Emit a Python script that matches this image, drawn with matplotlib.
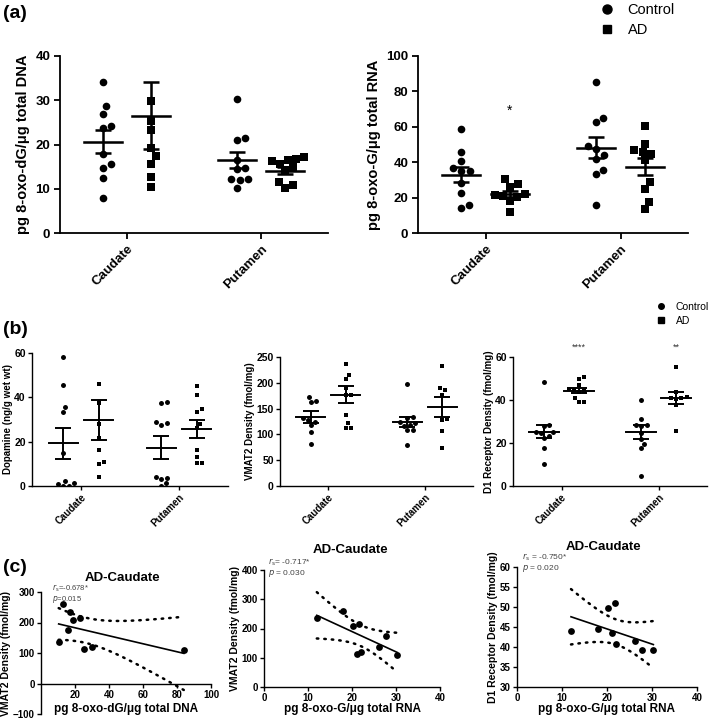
import numpy as np
import matplotlib
matplotlib.use('Agg')
from matplotlib import pyplot as plt
from matplotlib.lines import Line2D

plt.rcParams['font.family'] = ['Liberation Sans', 'DejaVu Sans']
plt.rcParams['axes.unicode_minus'] = True

W, H = 709, 720
regions = ['Caudate', 'Putamen']

# (a) 8-oxo-dG / 8-oxo-G, groups: [control, AD] x [caudate, putamen]
dna_ctrl_caud = [34.1, 28.6, 26.8, 24.1, 23.8, 17.8, 15.5, 14.7, 12.5, 7.9]
dna_ad_caud = [12.7, 17.3, 19.1, 15.7, 23.2, 10.4, 25.2, 29.8, 84.0]
dna_ctrl_put = [30.2, 21.0, 21.4, 16.5, 14.8, 12.0, 12.2, 10.2, 12.2, 14.5]
dna_ad_put = [17.2, 16.4, 16.7, 15.7, 14.9, 14.2, 11.5, 10.9, 10.2, 16.2]
dna_mean = [[20.6, 16.4], [26.5, 14.1]]
dna_sem = [[2.6, 1.8], [7.6, 0.8]]

rna_ctrl_caud = [59.0, 45.8, 40.5, 36.7, 34.8, 34.8, 28.2, 22.6, 14.3, 15.8]
rna_ad_caud = [12.0, 18.0, 20.2, 21.7, 21.1, 22.0, 26.2, 27.7, 30.3]
rna_ctrl_put = [85.3, 62.7, 65.2, 49.0, 47.5, 44.3, 42.0, 35.8, 33.1, 16.0]
rna_ad_put = [60.3, 50.5, 45.8, 44.4, 46.7, 41.0, 28.8, 25.0, 17.5, 13.4]
rna_mean = [[33.0, 48.3], [22.0, 37.5]]
rna_sem = [[4.2, 6.2], [1.6, 5.0]]

# (b) dopamine, VMAT2, D1
dop_ctrl_caud = [58.2, 45.4, 35.8, 33.5, 15.0, 2.4, 0.9, 0.2, 0.0, 1.2]
dop_ad_caud = [46.2, 37.3, 27.8, 21.5, 16.2, 10.7, 9.8, 3.9]
dop_ctrl_put = [37.9, 37.3, 28.7, 27.6, 28.2, 3.0, 3.9, 3.8, 0.0, 1.2]
dop_ad_put = [45.3, 41.1, 34.6, 33.5, 27.8, 26.0, 16.2, 13.3, 10.4, 10.4]
dop_mean = [[19.2, 17.3], [29.6, 25.9]]
dop_sem = [[7.0, 5.3], [9.0, 4.1]]

vmat_ctrl_caud = [173, 163, 165, 131, 127, 124, 118, 104, 81]
vmat_ad_caud = [237, 216, 207, 189, 177, 176, 137, 122, 113, 112]
vmat_ctrl_put = [198, 134, 132, 124, 123, 118, 117, 108, 108, 79]
vmat_ad_put = [232, 186, 189, 177, 130, 127, 106, 74]
vmat_mean = [[134, 124], [177, 153]]
vmat_sem = [[11, 10], [17, 20]]

d1_ctrl_caud = [48.2, 28.3, 27.8, 25.3, 24.6, 25.0, 23.3, 22.4, 17.6, 10.1]
d1_ad_caud = [50.9, 49.9, 46.8, 45.0, 44.6, 44.1, 43.5, 40.8, 39.2, 39.2]
d1_ctrl_put = [39.8, 31.1, 28.3, 28.0, 28.3, 24.6, 21.8, 19.5, 17.5, 4.7]
d1_ad_put = [55.2, 43.6, 41.5, 40.9, 40.7, 40.4, 37.8, 25.7]
d1_mean = [[25.3, 25.0], [44.3, 40.9]]
d1_sem = [[3.0, 3.2], [1.2, 2.8]]

# (c) AD-Caudate correlations
vmat_vs_dna = [260, 235, 207, 175, 215, 135, 112, 120, 110]
vmat_vs_rna = [235, 260, 207, 216, 114, 120, 136, 175, 110]
d1_vs_rna = [43.9, 44.6, 49.8, 51.0, 43.5, 40.7, 41.4, 39.3, 39.2]
stats_rs = ['=-0.678*', '= -0.717*', ' = -0.750*']
stats_p = ['=0.015', ' = 0.030', ' = 0.020']


fig = plt.figure(figsize=(W / 100, H / 100), dpi=100)


def px_axes(x0, y0, x1, y1):
    ax = fig.add_axes([x0 / W, 1 - y1 / H, (x1 - x0) / W, (y1 - y0) / H])
    ax.spines['top'].set_visible(False)
    ax.spines['right'].set_visible(False)
    return ax


def fig_xy(px, py):
    return px / W, 1 - py / H


def swarm(ax, center, vals, marker, diam_px):
    vals = np.asarray(vals, float)
    pts = ax.transData.transform(np.column_stack([np.full(len(vals), center), vals]))
    ppu = ax.transData.transform((1, 0))[0] - ax.transData.transform((0, 0))[0]
    placed = []
    offs = np.zeros(len(vals))
    for i in np.argsort(vals):
        py = pts[i, 1]
        cands = [0.0]
        for ox, oy in placed:
            dy = py - oy
            if abs(dy) < diam_px:
                dx = np.sqrt(diam_px ** 2 - dy ** 2)
                cands += [ox + dx, ox - dx]
        cands.sort(key=abs)
        for c in cands:
            if all((c - ox) ** 2 + (py - oy) ** 2 >= diam_px ** 2 - 1e-3 for ox, oy in placed):
                break
        placed.append((c, py))
        offs[i] = c
    size = (diam_px * 0.9 * 0.72) ** 2
    ax.scatter(center + offs / ppu, vals, marker=marker, s=size, color='black',
               linewidths=0, zorder=3)


def dot_panel(ax, groups, means, sems, ylim, yticks, ylabel, diam, fs_tick, fs_xlab,
              fs_ylab, lw, half, tick_len, tick_pad, labelpad):
    ax.set_xlim(0.5, 2.5)
    ax.set_ylim(*ylim)
    ax.set_yticks(yticks)
    ax.set_xticks([1, 2])
    ax.set_xticklabels(regions, rotation=45, ha='right', rotation_mode='anchor',
                       fontsize=fs_xlab, fontweight='bold')
    for lab in ax.get_yticklabels():
        lab.set_fontsize(fs_tick)
        lab.set_fontweight('bold')
    ax.set_ylabel(ylabel, fontsize=fs_ylab, fontweight='bold', labelpad=labelpad)
    for sp in ('left', 'bottom'):
        ax.spines[sp].set_linewidth(lw)
    ax.tick_params(width=lw, length=tick_len, pad=tick_pad, direction='out')
    for g, (marker, off) in enumerate([('o', -0.18), ('s', 0.18)]):
        for r in range(2):
            c = r + 1 + off
            swarm(ax, c, groups[g][r], marker, diam)
            m, e = means[g][r], sems[g][r]
            ax.plot([c - half, c + half], [m, m], color='black', lw=lw * 1.4, zorder=4)
            ax.errorbar(c, m, yerr=e, fmt='none', ecolor='black', elinewidth=lw * 1.4,
                        capsize=half * 0.4 * 100, capthick=lw * 1.4, zorder=4)


def corr_panel(ax, x, y, xlim, xticks, ylim, yticks, xlabel, ylabel, title, title_xy,
               rs, pv, stat_xy, stat_fs, xlabel_y):
    x = np.asarray(x, float)
    y = np.asarray(y, float)
    ax.set_xlim(*xlim)
    ax.set_ylim(*ylim)
    ax.set_xticks(xticks)
    ax.set_yticks(yticks)
    for lab in ax.get_xticklabels() + ax.get_yticklabels():
        lab.set_fontsize(7)
        lab.set_fontweight('bold')
    for sp in ('left', 'bottom'):
        ax.spines[sp].set_linewidth(1.0)
    ax.tick_params(width=1.0, length=3, pad=1.5)
    ax.set_xlabel(xlabel, fontsize=8.5, fontweight='bold')
    ax.xaxis.set_label_coords(0.5, xlabel_y)
    ax.set_ylabel(ylabel, fontsize=7.5, fontweight='bold', labelpad=1)
    ax.scatter(x, y, s=24, color='black', linewidths=0, zorder=3, clip_on=False)
    b, a = np.polyfit(x, y, 1)
    xs = np.linspace(x.min(), x.max(), 60)
    yhat = a + b * xs
    n = len(x)
    s = np.sqrt(((y - (a + b * x)) ** 2).sum() / (n - 2))
    se = s * np.sqrt(1 / n + (xs - x.mean()) ** 2 / ((x - x.mean()) ** 2).sum())
    t = 2.365  # t(0.975, df=7)
    ax.plot(xs, yhat, color='black', lw=1.2)
    ax.plot(xs, yhat + t * se, color='black', lw=1.8, ls=(0, (0.6, 2.4)), dash_capstyle='round')
    ax.plot(xs, yhat - t * se, color='black', lw=1.8, ls=(0, (0.6, 2.4)), dash_capstyle='round',
            clip_on=False)
    fig.text(*fig_xy(*title_xy), title, fontsize=9.5, fontweight='bold', ha='center',
             va='center')
    fig.text(*fig_xy(*stat_xy), r'$r_{\mathrm{s}}$' + rs, fontsize=stat_fs,
             color='#444444', ha='left', va='center')
    fig.text(*fig_xy(stat_xy[0], stat_xy[1] + 11.5), r'$p$' + pv, fontsize=stat_fs,
             color='#444444', ha='left', va='center')


# ---- (a)
ax1 = px_axes(60, 56, 328, 233)
dot_panel(ax1, [[dna_ctrl_caud, dna_ctrl_put], [dna_ad_caud, dna_ad_put]], dna_mean, dna_sem,
          (0, 40), [0, 10, 20, 30, 40], 'pg 8-oxo-dG/\u03bcg total DNA', 8.5, 9.5, 9.5, 10.5,
          1.3, 0.14, 4, 3, 4)
ax2 = px_axes(418, 56, 688, 233)
dot_panel(ax2, [[rna_ctrl_caud, rna_ctrl_put], [rna_ad_caud, rna_ad_put]], rna_mean, rna_sem,
          (0, 100), [0, 20, 40, 60, 80, 100], 'pg 8-oxo-G/\u03bcg total RNA', 8.5, 9.5, 9.5,
          10.5, 1.3, 0.14, 4, 3, 4)
ax2.text(1.18, 69, '*', ha='center', va='center', fontsize=10)

handles = [Line2D([], [], marker='o', ls='', color='black', ms=6.5),
           Line2D([], [], marker='s', ls='', color='black', ms=6)]
fig.legend(handles, ['Control', 'AD'], loc='upper left', bbox_to_anchor=fig_xy(597, 0),
           frameon=False, fontsize=10.5, handlelength=1.0, handletextpad=0.9,
           labelspacing=0.4, borderpad=0.2, borderaxespad=0)

# ---- (b)
bx1 = px_axes(32, 353, 228, 486)
dot_panel(bx1, [[dop_ctrl_caud, dop_ctrl_put], [dop_ad_caud, dop_ad_put]], dop_mean, dop_sem,
          (0, 60), [0, 20, 40, 60], 'Dopamine (ng/g wet wt)', 5.5, 7.5, 7, 7, 1.0, 0.15,
          3, 1.5, 1)
bx2 = px_axes(280, 357, 473, 486)
dot_panel(bx2, [[vmat_ctrl_caud, vmat_ctrl_put], [vmat_ad_caud, vmat_ad_put]], vmat_mean,
          vmat_sem, (0, 250), [0, 50, 100, 150, 200, 250], 'VMAT2 Density (fmol/mg)',
          5.5, 7.5, 7, 7, 1.0, 0.15, 3, 1.5, 1)
bx3 = px_axes(513, 357, 707, 486)
dot_panel(bx3, [[d1_ctrl_caud, d1_ctrl_put], [d1_ad_caud, d1_ad_put]], d1_mean, d1_sem,
          (0, 60), [0, 20, 40, 60], 'D1 Receptor Density (fmol/mg)', 5.5, 7.5, 7, 7, 1.0,
          0.15, 3, 1.5, 1)
bx3.text(1.18, 64.5, '****', ha='center', va='center', fontsize=6.5, color='#333333',
         clip_on=False)
bx3.text(2.18, 64.5, '**', ha='center', va='center', fontsize=6.5, color='#333333',
         clip_on=False)
handles_b = [Line2D([], [], marker='o', ls='', color='black', ms=4),
             Line2D([], [], marker='s', ls='', color='black', ms=4)]
fig.legend(handles_b, ['Control', 'AD'], loc='upper left', bbox_to_anchor=fig_xy(656, 302),
           frameon=False, fontsize=7.5, handlelength=1.0, handletextpad=0.9,
           labelspacing=0.35, borderpad=0, borderaxespad=0)

# ---- (c)
cx1 = px_axes(41, 592, 211, 714)
cx1.spines['bottom'].set_position(('data', 0))
corr_panel(cx1, dna_ad_caud, vmat_vs_dna, (0, 100), [20, 40, 60, 80, 100], (-100, 300),
           [-100, 0, 100, 200, 300], 'pg 8-oxo-dG/\u03bcg total DNA', 'VMAT2 Density (fmol/mg)',
           'AD-Caudate', (122, 578), stats_rs[0], stats_p[0], (52, 588), 5.5, 0.09)
cx2 = px_axes(264, 570, 440, 687)
corr_panel(cx2, rna_ad_caud, vmat_vs_rna, (0, 40), [0, 10, 20, 30, 40], (0, 400),
           [0, 100, 200, 300, 400], 'pg 8-oxo-G/\u03bcg total RNA', 'VMAT2 Density (fmol/mg)',
           'AD-Caudate', (350, 550), stats_rs[1], stats_p[1], (268, 562), 6, -0.14)
cx3 = px_axes(517, 567, 697, 687)
corr_panel(cx3, rna_ad_caud, d1_vs_rna, (0, 40), [0, 10, 20, 30, 40], (30, 60),
           [30, 35, 40, 45, 50, 55, 60], 'pg 8-oxo-G/\u03bcg total RNA',
           'D1 Receptor Density (fmol/mg)', 'AD-Caudate', (603, 547), stats_rs[2], stats_p[2],
           (522, 557), 6, -0.137)

for lab, py in [('(a)', 13), ('(b)', 330), ('(c)', 568)]:
    fig.text(*fig_xy(3, py), lab, fontsize=14, fontweight='bold', ha='left', va='center')

fig.savefig('out.png', dpi=100)
